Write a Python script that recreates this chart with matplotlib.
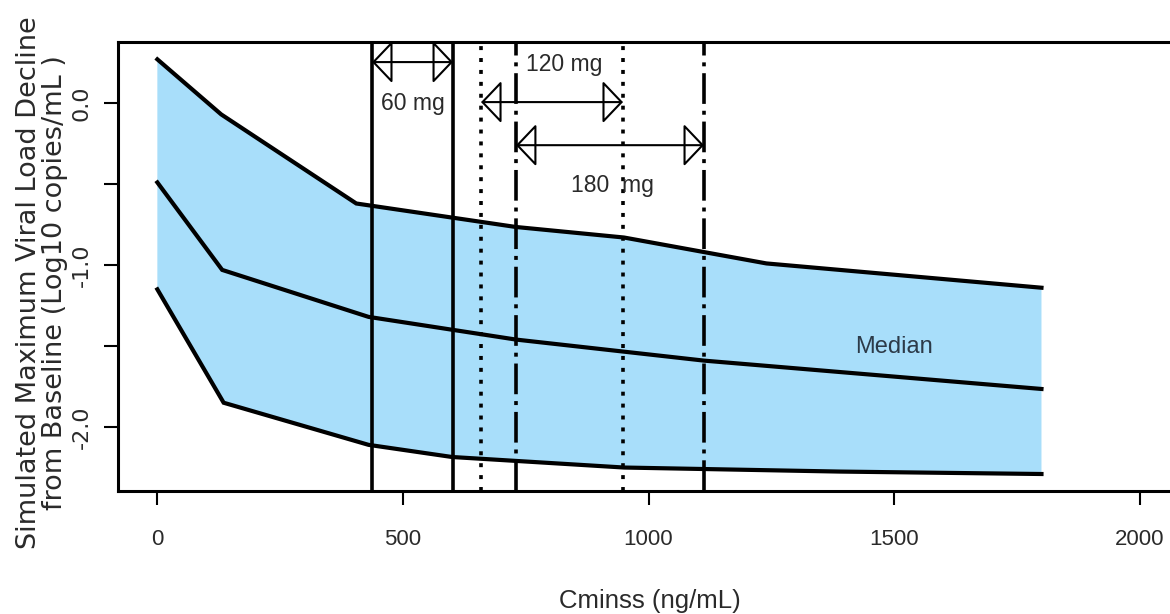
import matplotlib

matplotlib.use("Agg")
import matplotlib.pyplot as plt
import numpy as np
from matplotlib import font_manager

# --- data ---
upper_x = [0, 130, 405, 730, 950, 1240, 1800]
upper_y = [0.27, -0.07, -0.62, -0.765, -0.83, -0.99, -1.14]
median_x = [0, 132, 430, 730, 1113, 1800]
median_y = [-0.49, -1.03, -1.32, -1.46, -1.59, -1.765]
lower_x = [0, 135, 430, 600, 950, 1390, 1800]
lower_y = [-1.15, -1.85, -2.11, -2.185, -2.25, -2.275, -2.29]

# Cminss ranges per dose (ng/mL)
dose_labels = ["60 mg", "120 mg", "180  mg"]
dose_lo = [437, 659, 730]
dose_hi = [602, 948, 1113]
dose_arrow_y = [0.253, 0.006, -0.26]
dose_text_xy = [(521, 0.0), (828, 0.235), (926, -0.506)]
dose_styles = ["solid", (0, (1.1, 2.2)), (0, (8.5, 1.9, 1.1, 1.9))]

x_ticks = [0, 500, 1000, 1500, 2000]
x_ticklabels = ["0", "500", "1000", "1500", "2000"]
y_ticks = [0.0, -0.5, -1.0, -1.5, -2.0]
y_ticklabels = ["0.0", "", "-1.0", "", "-2.0"]

names = {f.name for f in font_manager.fontManager.ttflist}
NARROW = "Liberation Sans Narrow" if "Liberation Sans Narrow" in names else "Liberation Sans"
TXT = "#2a2a2a"

fig = plt.figure(figsize=(11.7, 6.14), dpi=100)
ax = fig.add_axes([0.1009, 0.2003, 0.9068, 0.7313])

band_x = np.concatenate([upper_x, lower_x[::-1]])
band_y = np.concatenate([upper_y, lower_y[::-1]])
ax.fill(band_x, band_y, color="#A8DEFA", lw=0, zorder=1)
for xs, ys in [(upper_x, upper_y), (median_x, median_y), (lower_x, lower_y)]:
    ax.plot(xs, ys, color="black", lw=3, solid_joinstyle="miter", zorder=3)

for lo, hi, ay, (tx, ty), lab, ls in zip(
    dose_lo, dose_hi, dose_arrow_y, dose_text_xy, dose_labels, dose_styles
):
    for v in (lo, hi):
        ax.axvline(v, color="black", lw=2.6, linestyle=ls, zorder=4)
    ax.annotate(
        "",
        xy=(hi, ay),
        xytext=(lo, ay),
        arrowprops=dict(
            arrowstyle="<|-|>,head_length=1.0,head_width=1.05",
            mutation_scale=13,
            fc="none",
            ec="black",
            lw=1.5,
            shrinkA=0,
            shrinkB=0,
        ),
        zorder=5,
    )
    ax.text(tx, ty, lab, ha="center", va="center", family=NARROW, fontsize=16.5,
            color=TXT, zorder=6)

ax.text(1500, -1.506, "Median", ha="center", va="center", family=NARROW,
        fontsize=17, color="#2c3a48", zorder=6)

ax.set_xlim(-80, 2080)
ax.set_ylim(-2.395, 0.377)
ax.set_xticks(x_ticks)
ax.set_xticklabels(x_ticklabels, family=NARROW, fontsize=16, color=TXT)
ax.set_yticks(y_ticks)
ax.set_yticklabels(y_ticklabels, family="DejaVu Sans", fontsize=16, color=TXT,
                   rotation=90, va="center")
ax.tick_params(axis="x", length=10, width=1.5, pad=17)
ax.tick_params(axis="y", length=10, width=1.5, pad=9)
for sp in ax.spines.values():
    sp.set_linewidth(2.2)

# y label sits a bit low so the long first line stays inside the canvas
fig.text(0.036, 0.54,
         "Simulated Maximum Viral Load Decline\nfrom Baseline (Log10 copies/mL )",
         rotation=90, ha="center", va="center", multialignment="center",
         family="DejaVu Sans", fontsize=19.5, color=TXT, linespacing=1.0)
fig.text(0.5556, 0.0098, "Cminss (ng/mL)", ha="center", va="baseline",
         family=NARROW, fontsize=18.5, color=TXT)

fig.savefig("out.png", dpi=100)
